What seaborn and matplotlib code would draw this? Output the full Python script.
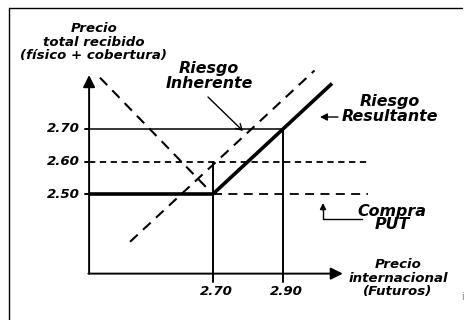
import matplotlib
matplotlib.use("Agg")
import matplotlib.pyplot as plt
from matplotlib.lines import Line2D
import seaborn as sns

# --- data: precio internacional (x) vs precio total recibido (y) -------------
result_x = [2.346, 2.70, 3.04]        # Riesgo Resultante (thick)
result_y = [2.50, 2.50, 2.84]
inherent_x = [2.463, 2.99]            # Riesgo Inherente (dashed, rising)
inherent_y = [2.353, 2.88]
physical_x = [2.377, 2.683]           # dashed falling line
physical_y = [2.858, 2.518]
put_level = 2.50                      # Compra PUT floor
put_x = [2.70, 3.143]
mid_level = 2.60
mid_x = [2.346, 3.143]
cap_level = 2.70
cap_x = [2.346, 2.90]

x_ticks = [2.70, 2.90]
x_tick_labels = ["2.70", "2.90"]
x_tick_tops = [2.60, 2.70]            # guide lines start here
y_ticks = [2.70, 2.60, 2.50]
y_tick_labels = ["2.70", "2.60", "2.50"]

x_origin, y_origin = 2.346, 2.255
x_end, y_end = 3.071, 2.866
tick_bottom = 2.229

# --- figure ------------------------------------------------------------------
W, H = 466, 320
sns.set_theme(style="white")
plt.rcParams['font.family'] = ['DejaVu Sans']
fig = plt.figure(figsize=(W / 100, H / 100), dpi=100)
ax = fig.add_axes([0, 0, 1, 1])
ax.set_xlim(2.70 - 213 / 350, 2.70 + 253 / 350)
ax.set_ylim(2.50 - 126 / 325, 2.50 + 194 / 325)
ax.axis("off")

def px(x, y):
    return (x / W, 1 - y / H)

font = dict(color="black", fontweight="bold", fontstyle="italic")
k = "black"
small, big = 9.6, 11.4

# guide lines
sns.lineplot(x=cap_x, y=[cap_level] * 2, sort=False, estimator=None, color=k, lw=1.1, ax=ax)
sns.lineplot(x=mid_x, y=[mid_level] * 2, sort=False, estimator=None, color=k, lw=1.3,
             ls=(0, (3.5, 2.5)), ax=ax)
sns.lineplot(x=put_x, y=[put_level] * 2, sort=False, estimator=None, color=k, lw=1.3,
             ls=(0, (5, 3.5)), ax=ax)
for xt, top in zip(x_ticks, x_tick_tops):
    sns.lineplot(x=[xt, xt], y=[top, tick_bottom], sort=False, estimator=None,
                 color=k, lw=1.4, ax=ax)

# dashed diagonals
sns.lineplot(x=inherent_x, y=inherent_y, sort=False, estimator=None, color=k, lw=1.5,
             ls=(0, (5, 3.5)), ax=ax)
sns.lineplot(x=physical_x, y=physical_y, sort=False, estimator=None, color=k, lw=1.5,
             ls=(0, (5, 3.5)), ax=ax)

# resultant
sns.lineplot(x=result_x, y=result_y, sort=False, estimator=None, color=k, lw=2.6,
             solid_capstyle="butt", ax=ax)

# axes with arrows
ax.annotate("", xy=(x_origin, y_end), xytext=(x_origin, y_origin),
            arrowprops=dict(arrowstyle="-|>,head_length=0.6,head_width=0.3", color=k, lw=1.4,
                            shrinkA=0, shrinkB=0))
ax.annotate("", xy=(x_end, y_origin), xytext=(x_origin - 0.002, y_origin),
            arrowprops=dict(arrowstyle="-|>,head_length=0.6,head_width=0.3", color=k, lw=1.4,
                            shrinkA=0, shrinkB=0))
for yt, lab in zip(y_ticks, y_tick_labels):
    ax.plot([x_origin - 0.012, x_origin], [yt, yt], color=k, lw=1.4)
    ax.text(x_origin - 0.026, yt, lab, ha="right", va="center", fontsize=small, **font)
for xt, lab in zip(x_ticks, x_tick_labels):
    ax.text(xt + 0.01, y_origin - 0.055, lab, ha="center", va="center", fontsize=small, **font)

# labels
ax.text(*px(94, 42), "Precio\ntotal recibido\n(físico + cobertura)", transform=ax.transAxes,
        ha="center", va="center", fontsize=small, linespacing=1.05, **font)
ax.text(*px(209, 76), "Riesgo\nInherente", transform=ax.transAxes,
        ha="center", va="center", fontsize=big, linespacing=0.95, **font)
ax.annotate("", xy=px(243, 131), xytext=px(208, 97), xycoords="axes fraction",
            textcoords="axes fraction",
            arrowprops=dict(arrowstyle="->,head_length=0.35,head_width=0.2", color=k, lw=1.0,
                            shrinkA=0, shrinkB=0))
ax.text(*px(390, 109), "Riesgo\nResultante", transform=ax.transAxes,
        ha="center", va="center", fontsize=big, linespacing=0.95, **font)
ax.annotate("", xy=px(320, 117), xytext=px(338, 117), xycoords="axes fraction",
            textcoords="axes fraction",
            arrowprops=dict(arrowstyle="-|>,head_length=0.35,head_width=0.18", color=k, lw=1.0,
                            shrinkA=0, shrinkB=0))
ax.text(*px(392, 218), "Compra\nPUT", transform=ax.transAxes,
        ha="center", va="center", fontsize=big, linespacing=0.85, **font)
ax.plot(*zip(px(362, 219), px(323, 219), px(323, 209)), transform=ax.transAxes, color=k, lw=1.0)
ax.annotate("", xy=px(323, 203), xytext=px(323, 210), xycoords="axes fraction",
            textcoords="axes fraction",
            arrowprops=dict(arrowstyle="-|>,head_length=0.3,head_width=0.15", color=k, lw=1.0,
                            shrinkA=0, shrinkB=0))
ax.text(*px(398, 278), "Precio\ninternacional\n(Futuros)", transform=ax.transAxes,
        ha="center", va="center", fontsize=small, linespacing=1.05, **font)
ax.text(*px(463, 297), "i", transform=ax.transAxes, ha="center", va="center",
        fontsize=7, color="#888888")

# scanned frame (top and left edges)
fig.add_artist(Line2D([9 / W, 462 / W], [1 - 8 / H, 1 - 8 / H], color=k, lw=1.0))
fig.add_artist(Line2D([9 / W, 9 / W], [1 - 8 / H, 0], color=k, lw=1.0))

fig.savefig("out.png", dpi=100)
